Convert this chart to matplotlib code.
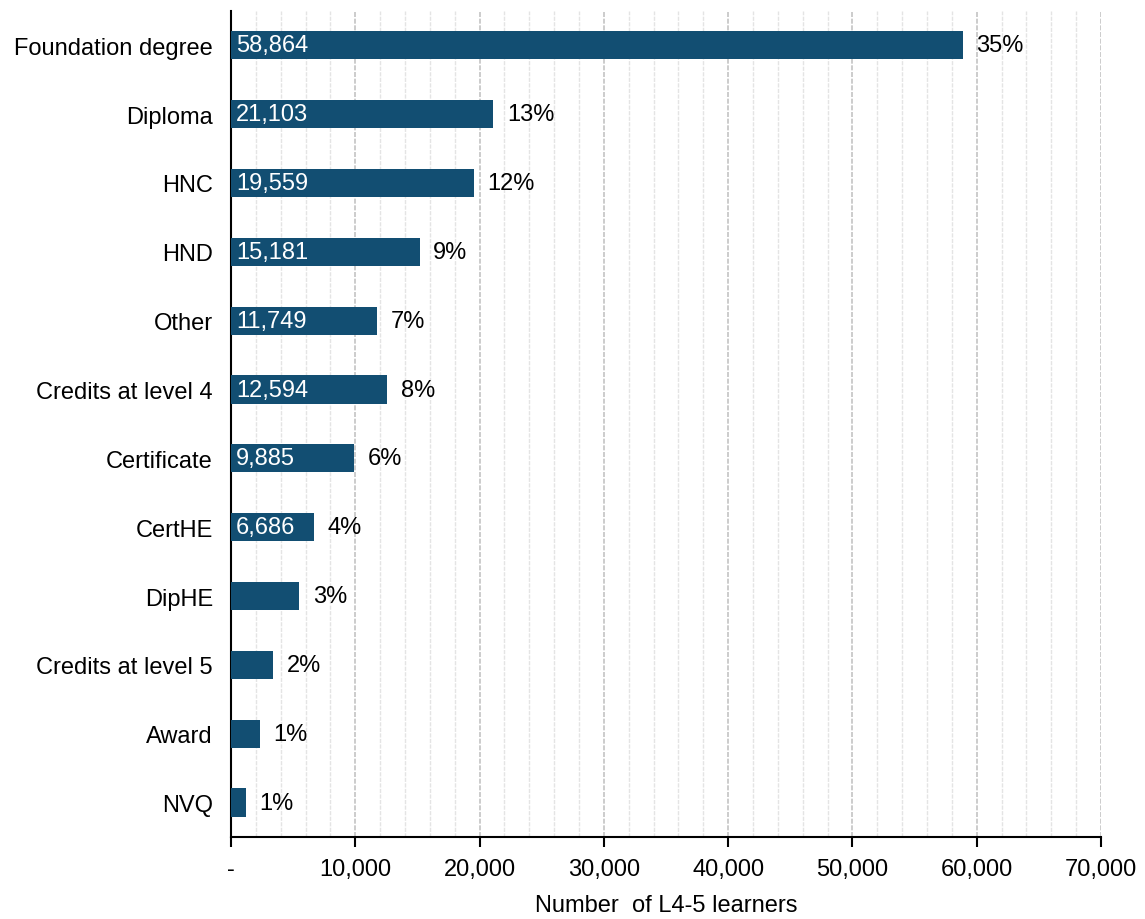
import matplotlib
matplotlib.use("Agg")
import matplotlib.pyplot as plt
from matplotlib.ticker import MultipleLocator, FuncFormatter

plt.rcParams['font.family'] = ['Liberation Sans', 'DejaVu Sans']

categories = ["Foundation degree", "Diploma", "HNC", "HND", "Other", "Credits at level 4",
              "Certificate", "CertHE", "DipHE", "Credits at level 5", "Award", "NVQ"]
values = [58864, 21103, 19559, 15181, 11749, 12594, 9885, 6686, 5470, 3380, 2330, 1200]
show_value = [True, True, True, True, True, True, True, True, False, False, False, False]
percents = ["35%", "13%", "12%", "9%", "7%", "8%", "6%", "4%", "3%", "2%", "1%", "1%"]

FS = 17

fig = plt.figure(figsize=(11.45, 9.2), dpi=100)
ax = fig.add_axes([0.2017, 0.0891, 0.7599, 0.898])

color = "#124E72"
ypos = list(range(len(categories)))
ax.barh(ypos, values, height=0.41, color=color, zorder=3)

for y, v, s, p in zip(ypos, values, show_value, percents):
    if s:
        ax.text(400, y, f"{v:,}", color="white", va="center", ha="left", fontsize=FS, zorder=4)
    ax.text(v + 1100, y, p, color="black", va="center", ha="left", fontsize=FS, zorder=4)

ax.set_ylim(len(categories) - 0.5, -0.5)
ax.set_xlim(0, 70000)
ax.set_yticks(ypos)
ax.set_yticklabels(categories, fontsize=FS)
ax.tick_params(axis='y', length=0, pad=13)

ax.xaxis.set_major_locator(MultipleLocator(10000))
ax.xaxis.set_minor_locator(MultipleLocator(2000))
ax.xaxis.set_major_formatter(FuncFormatter(lambda x, pos: "-" if x == 0 else f"{int(x):,}"))
ax.tick_params(axis='x', which='major', length=7, width=1.5, labelsize=FS, pad=8)
ax.tick_params(axis='x', which='minor', length=0)

ax.grid(axis='x', which='major', color="#c4c4c4", linewidth=1.2, linestyle=(0, (3, 1)), zorder=0)
ax.grid(axis='x', which='minor', color="#e4e4e4", linewidth=1.0, linestyle=(0, (3, 1)), zorder=0)

for side in ['top', 'right']:
    ax.spines[side].set_visible(False)
ax.spines['left'].set_linewidth(1.5)
ax.spines['bottom'].set_linewidth(1.5)

ax.set_xlabel("Number  of L4-5 learners", fontsize=FS, labelpad=10)

fig.savefig("out.png", dpi=100)
